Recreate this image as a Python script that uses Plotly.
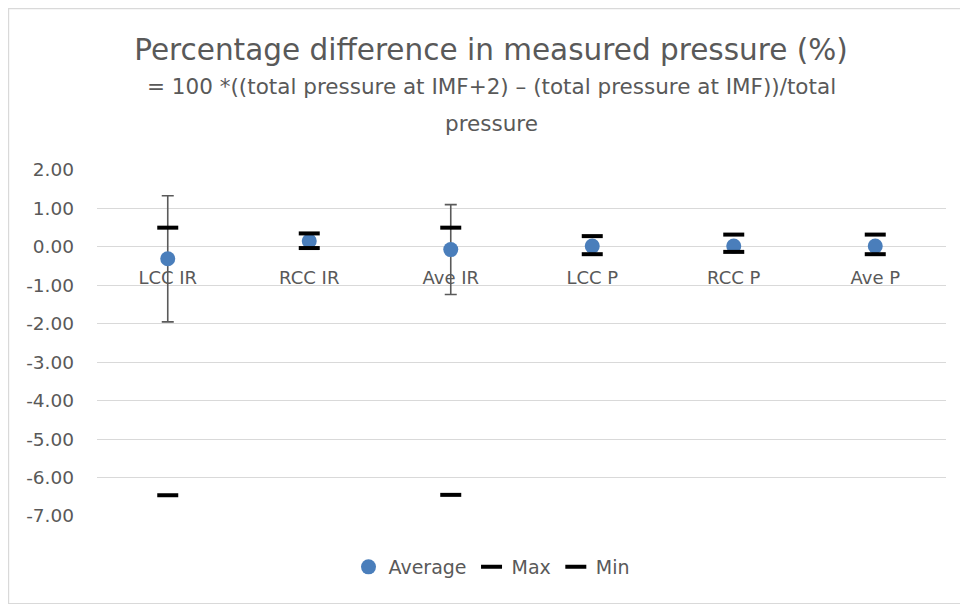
import plotly.graph_objects as go

categories = ["LCC IR", "RCC IR", "Ave IR", "LCC P", "RCC P", "Ave P"]
average = [-0.31, 0.15, -0.07, 0.02, 0.02, 0.02]
avg_error = [1.64, 0.08, 1.17, 0.06, 0.06, 0.06]
max_vals = [0.50, 0.35, 0.50, 0.28, 0.32, 0.32]
min_vals = [-6.46, -0.03, -6.45, -0.19, -0.13, -0.19]
y_tickvals = [2, 1, 0, -1, -2, -3, -4, -5, -6, -7]
y_ticktext = ["2.00", "1.00", "0.00", "-1.00", "-2.00", "-3.00",
              "-4.00", "-5.00", "-6.00", "-7.00"]

FONT = "DejaVu Sans"
GREY = "#595959"

# page renders with an 8px body margin; work in screen pixels
OFF = 8
W, H = 968 - OFF, 605 - OFF
L, R, T, B = 97 - OFF, 22, 170 - OFF, 89
pw = W - L - R
ph = H - T - B
ymin, ymax = -7, 2

def px_x(sx):
    return (sx - OFF - L) / pw

def px_y(sy):
    return (H - B - (sy - OFF)) / ph

fig = go.Figure()
fig.add_trace(go.Scatter(
    x=categories, y=average, name="Average", mode="markers",
    marker=dict(symbol="circle", size=15, color="#4a7ebb"),
    error_y=dict(type="data", array=avg_error, visible=True,
                 color="#5a5a5a", thickness=1.6, width=6),
))
fig.add_trace(go.Scatter(
    x=categories, y=max_vals, name="Max", mode="markers",
    marker=dict(symbol="line-ew", size=15, color="black",
                line=dict(color="black", width=4)),
))
fig.add_trace(go.Scatter(
    x=categories, y=min_vals, name="Min", mode="markers",
    marker=dict(symbol="line-ew", size=15, color="black",
                line=dict(color="black", width=4)),
))

fig.update_layout(
    width=W, height=H,
    margin=dict(l=L, r=R, t=T, b=B),
    paper_bgcolor="white", plot_bgcolor="white",
    font=dict(family=FONT, color=GREY, size=18),
    title=dict(text="Percentage difference in measured pressure (%)",
               x=(491 - OFF) / W, xanchor="center", xref="container",
               y=1 - (50 - OFF) / H, yanchor="middle", yref="container",
               font=dict(family=FONT, size=29.5, color=GREY)),
    showlegend=True,
    legend=dict(orientation="h", x=px_x(492), xanchor="center",
                y=px_y(567), yanchor="middle",
                font=dict(family=FONT, size=19, color=GREY),
                itemwidth=30, tracegroupgap=0),
    xaxis=dict(type="category", categoryorder="array", categoryarray=categories,
               range=[-0.5, 5.5], anchor="free",
               position=(0 - ymin) / (ymax - ymin),
               showgrid=False, showline=False, zeroline=False, ticks="",
               ticklabelstandoff=18,
               tickfont=dict(family=FONT, size=18, color=GREY)),
    yaxis=dict(range=[ymin, ymax], tickvals=y_tickvals, ticktext=y_ticktext,
               showgrid=True, gridcolor="#d9d9d9", gridwidth=1.2,
               zeroline=False, showline=False, ticks="",
               ticklabelstandoff=22,
               tickfont=dict(family=FONT, size=18.5, color=GREY)),
)

fig.add_annotation(text="= 100 *((total pressure at IMF+2) \u2013 (total pressure at IMF))/total",
                   xref="paper", yref="paper", x=px_x(491), y=px_y(87),
                   xanchor="center", yanchor="middle", showarrow=False,
                   font=dict(family=FONT, size=21.5, color=GREY))
fig.add_annotation(text="pressure",
                   xref="paper", yref="paper", x=px_x(491), y=px_y(123),
                   xanchor="center", yanchor="middle", showarrow=False,
                   font=dict(family=FONT, size=21.5, color=GREY))

fig.add_shape(type="rect", xref="paper", yref="paper",
              x0=px_x(8.6), x1=px_x(966), y0=px_y(603.5), y1=px_y(8.6),
              line=dict(color="#d9d9d9", width=1.2), fillcolor="rgba(0,0,0,0)",
              layer="below")

fig.write_html("out.html")
